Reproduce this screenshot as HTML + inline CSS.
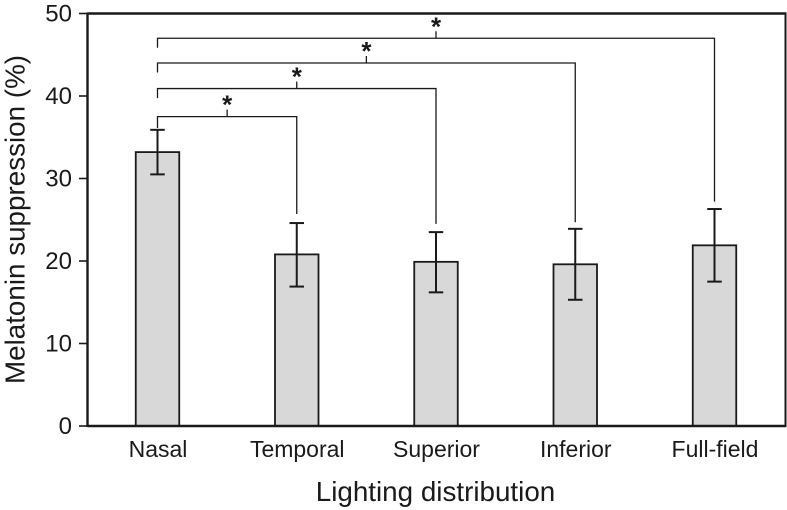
<!DOCTYPE html>
<html>
<head>
<meta charset="utf-8">
<style>
html,body{margin:0;padding:0;background:#fff;width:787px;height:510px;overflow:hidden}
svg{display:block}
text{font-family:"Liberation Sans",Arial,sans-serif;fill:#1a1a1a}
</style>
</head>
<body>
<svg id="chart" width="787" height="510" viewBox="0 0 787 510" xmlns="http://www.w3.org/2000/svg">
<text transform="translate(24.5,219.5) rotate(-90)" text-anchor="middle" font-size="27.8">Melatonin suppression (%)</text>
<text x="435.5" y="501" text-anchor="middle" font-size="27.8">Lighting distribution</text>
</svg>
<script>
const categories = ["Nasal", "Temporal", "Superior", "Inferior", "Full-field"];
const means = [33.2, 20.8, 19.9, 19.6, 21.9];
const errorUpper = [35.9, 24.6, 23.5, 23.9, 26.3];
const errorLower = [30.5, 16.9, 16.2, 15.3, 17.5];
const yTicks = [0, 10, 20, 30, 40, 50];
const bracketTargets = [1, 2, 3, 4];
const bracketLevels = [37.5, 40.9, 44.0, 47.0];
const bracketEnds = [25.7, 24.5, 24.7, 27.2];

const NS = "http://www.w3.org/2000/svg";
const svg = document.getElementById("chart");
const plotL = 87.5, plotR = 785.5, plotT = 13.5, plotB = 426;
const yMax = 50;
const firstX = 157.5, stepX = 139.25, barW = 43.5, capW = 14.5;
const INK = "#1a1a1a";

function xPos(i){ return firstX + i * stepX; }
function yPos(v){ return plotB - (v / yMax) * (plotB - plotT); }

function mk(tag, attrs){
  const el = document.createElementNS(NS, tag);
  for (const k in attrs) el.setAttribute(k, attrs[k]);
  svg.appendChild(el);
  return el;
}
function line(x1, y1, x2, y2, w, name){
  const el = mk("line", {x1:x1, y1:y1, x2:x2, y2:y2, stroke:INK, "stroke-width":w});
  
  
  return el;
}

// bars
categories.forEach((c, i) => {
  const x = xPos(i), top = yPos(means[i]);
  const bar = mk("rect", {x:x - barW / 2, y:top, width:barW, height:plotB - top, fill:"#d8d8d8", stroke:INK, "stroke-width":1.8});
  
  

  const up = yPos(errorUpper[i]), lo = yPos(errorLower[i]);
  line(x, up, x, lo, 2, 'error-bar-' + c.toLowerCase());
  line(x - capW / 2, up, x + capW / 2, up, 2, 'error-cap-upper-' + c.toLowerCase());
  line(x - capW / 2, lo, x + capW / 2, lo, 2, 'error-cap-lower-' + c.toLowerCase());

  const label = mk("text", {x:x + 0.5, y:457, "text-anchor":"middle", "font-size":"23"});
  label.textContent = c;
  
  
});

// axes and frame
line(plotL, plotT, plotR + 1, plotT, 2.4, 'plot-frame-top');
line(plotR, plotT, plotR, plotB, 2, 'plot-frame-right');
line(plotL, plotT - 1, plotL, plotB + 1, 2.4, 'y-axis-line');
line(plotL, plotB, plotR + 1, plotB, 2.4, 'x-axis-line');

yTicks.forEach(t => {
  const y = yPos(t);
  line(79, y, plotL, y, 1.6, 'y-tick-mark');
  const label = mk("text", {x:72, y:y + 8, "text-anchor":"end", "font-size":"24"});
  label.textContent = t;
  
  
});

// significance brackets
bracketTargets.forEach((target, i) => {
  const x1 = xPos(0), x2 = xPos(target), y = yPos(bracketLevels[i]);
  const mid = (x1 + x2) / 2;
  const leftEnd = i === 0 ? 128 : y + 9.5;
  const path = mk("path", {
    d: "M" + x1 + " " + leftEnd + "V" + y + "H" + x2 + "V" + yPos(bracketEnds[i]),
    fill: "none", stroke: INK, "stroke-width": 1.3
  });
  
  
  line(mid, y, mid, y - 7, 1.3, 'bracket-tick');
  const star = mk("text", {x:mid, y:y - 3, "text-anchor":"middle", "font-size":"26", "font-weight":"bold"});
  star.textContent = "*";
  
  
});
</script>
</body>
</html>
